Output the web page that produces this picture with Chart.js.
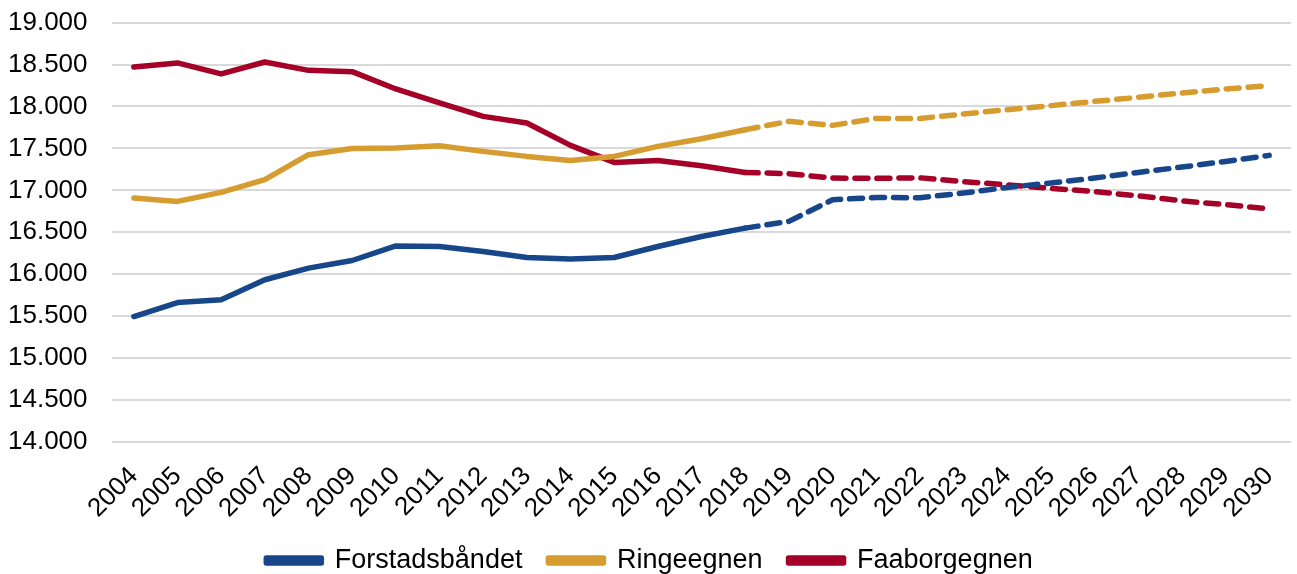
<!DOCTYPE html>
<html>
<head>
<meta charset="utf-8">
<script src="https://cdn.jsdelivr.net/npm/chart.js@4"></script>
<style>
  html, body { margin: 0; padding: 0; background: #fff; }
  #wrap { width: 1297px; height: 574px; }
</style>
</head>
<body>
<div id="wrap"><canvas id="chart" width="1297" height="574"></canvas></div>
<script>
// år (kategorier)
const years = ['2004','2005','2006','2007','2008','2009','2010','2011','2012','2013','2014','2015','2016',
  '2017','2018','2019','2020','2021','2022','2023','2024','2025','2026','2027','2028','2029','2030'];

// serier
const forstadsbaandet = [15496, 15663, 15695, 15934, 16073, 16164, 16338, 16330, 16272, 16200, 16181, 16200, 16331,
  16450, 16550, 16630, 16888, 16916, 16912, 16968, 17035, 17088, 17147, 17214, 17278, 17345, 17417];
const ringeegnen = [16909, 16868, 16976, 17127, 17425, 17500, 17505, 17533, 17465, 17405, 17357, 17405, 17524,
  17616, 17723, 17823, 17775, 17858, 17858, 17910, 17962, 18010, 18061, 18109, 18161, 18209, 18248];
const faaborgegnen = [18471, 18519, 18388, 18530, 18431, 18415, 18209, 18042, 17882, 17803, 17536, 17333, 17357,
  17294, 17214, 17198, 17147, 17143, 17150, 17105, 17065, 17025, 16985, 16935, 16875, 16830, 16780];

// fremskrivning fra 2018
const lastActual = years.indexOf('2018');

const yMin = 14000;
const yMax = 19000;
const yStep = 500;

const fmt = v => String(v).replace(/\B(?=(\d{3})+(?!\d))/g, '.');
const font = 'Liberation Sans, Arial, sans-serif';

function line(label, data, color) {
  return {
    label: label,
    data: data,
    borderColor: color,
    backgroundColor: color,
    borderWidth: 5.5,
    borderCapStyle: 'round',
    borderJoinStyle: 'round',
    pointRadius: 0,
    tension: 0,
    segment: {
      borderDash: ctx => ctx.p0DataIndex >= lastActual ? [13, 9] : undefined
    }
  };
}

new Chart(document.getElementById('chart').getContext('2d'), {
  type: 'line',
  data: {
    labels: years,
    datasets: [
      line('Forstadsbåndet', forstadsbaandet, '#17478a'),
      line('Ringeegnen', ringeegnen, '#d69c2f'),
      line('Faaborgegnen', faaborgegnen, '#a50028')
    ]
  },
  options: {
    responsive: false,
    animation: false,
    layout: { padding: { left: 8, right: 6, top: 0, bottom: -10 } },
    plugins: {
      legend: {
        position: 'bottom',
        labels: {
          font: { family: font, size: 27 },
          color: '#000',
          boxWidth: 55,
          boxHeight: 5,
          padding: 26
        }
      },
      tooltip: { enabled: false }
    },
    scales: {
      x: {
        offset: true,
        grid: { display: false, drawTicks: false },
        border: { display: false },
        ticks: {
          font: { family: font, size: 26 },
          color: '#000',
          minRotation: 45,
          maxRotation: 45,
          autoSkip: false,
          padding: 19
        },
        afterFit: s => { s.height = 79; s.paddingRight = 0; }
      },
      y: {
        min: yMin,
        max: yMax,
        grid: { color: '#d9d9d9', lineWidth: 2, drawTicks: false },
        border: { display: false },
        ticks: {
          stepSize: yStep,
          font: { family: font, size: 26 },
          color: '#000',
          padding: 7,
          crossAlign: 'far',
          callback: v => fmt(v)
        },
        afterFit: s => { s.width = 104; }
      }
    }
  }
});
</script>
</body>
</html>
